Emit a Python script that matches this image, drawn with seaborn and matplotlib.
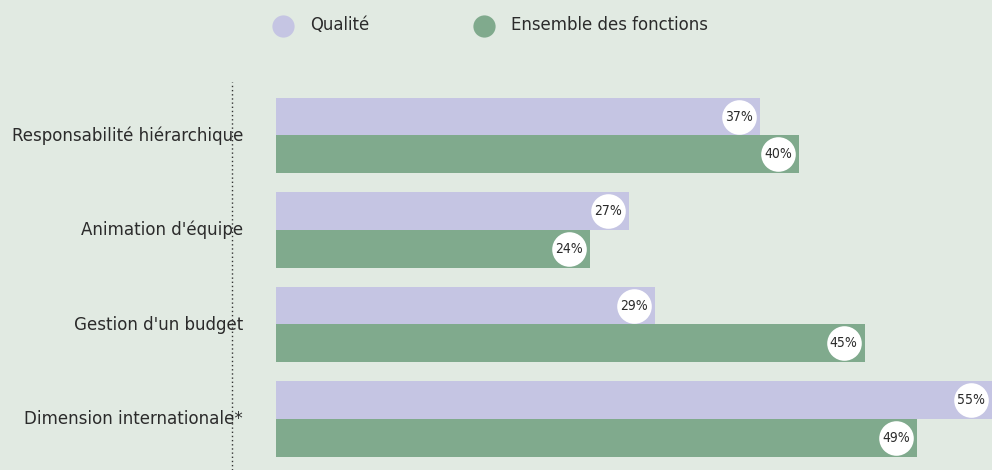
import matplotlib
matplotlib.use("Agg")
import matplotlib.pyplot as plt
from matplotlib.lines import Line2D
import seaborn as sns
import pandas as pd

categories = ["Responsabilité hiérarchique", "Animation d'équipe",
              "Gestion d'un budget", "Dimension internationale*"]
series_names = ["Qualité", "Ensemble des fonctions"]
qualite = [37, 27, 29, 55]
ensemble = [40, 24, 45, 49]

bg = "#e1eae2"
col_q = "#c5c5e3"
col_e = "#80aa8d"
txt = "#2b2b2b"

sns.set_theme(style="white")
plt.rcParams["font.family"] = ["DejaVu Sans"]
plt.rcParams["font.stretch"] = "condensed"

df = pd.DataFrame({
    "cat": categories * 2,
    "serie": [series_names[0]] * 4 + [series_names[1]] * 4,
    "val": qualite + ensemble,
})

W, H = 992, 470
fig = plt.figure(figsize=(W / 100, H / 100), dpi=100, facecolor=bg)
left_px, top_px = 276, 80
ax = fig.add_axes([left_px / W, 0, 1 - left_px / W, (H - top_px) / H])
ax.set_facecolor(bg)

sns.barplot(data=df, y="cat", x="val", hue="serie", orient="h",
            palette=[col_q, col_e], width=0.8, saturation=1,
            ax=ax, legend=False, linewidth=0)

xmax = (W - left_px) / 13.08
ax.set_xlim(0, xmax)
ax.set_ylim(3.54, -0.587)
for s in ax.spines.values():
    s.set_visible(False)
ax.set_xticks([])
ax.set_yticks([])
ax.set_xlabel("")
ax.set_ylabel("")

# value badges at the end of each bar
for patch in ax.patches:
    w = patch.get_width()
    if w <= 0:
        continue
    yc = patch.get_y() + patch.get_height() / 2
    xc = min(w, xmax) - 1.6
    ax.scatter([xc], [yc], s=620, color="white", zorder=3, linewidths=0, clip_on=False)
    ax.text(xc, yc, f"{int(round(w))}%", ha="center", va="center",
            fontsize=10, color=txt, zorder=4)

# category labels
for i, c in enumerate(categories):
    fig.text(243 / W, 1 - (135.5 + i * 94.5) / H, c, ha="right", va="center",
             fontsize=13.3, color=txt)

# dotted separator
fig.add_artist(Line2D([232 / W, 232 / W], [0, (H - 82) / H],
                      transform=fig.transFigure, color="#333333",
                      linestyle=(0, (1, 2)), linewidth=1))

# legend
for xm, xt, col, name in [(283, 310, col_q, series_names[0]),
                          (484, 511, col_e, series_names[1])]:
    fig.add_artist(Line2D([xm / W], [1 - 26 / H], marker="o", markersize=16,
                          markerfacecolor=col, markeredgewidth=0,
                          transform=fig.transFigure))
    fig.text(xt / W, 1 - 25 / H, name, ha="left", va="center",
             fontsize=13.2, color=txt)

fig.savefig("out.png", dpi=100, facecolor=bg)
